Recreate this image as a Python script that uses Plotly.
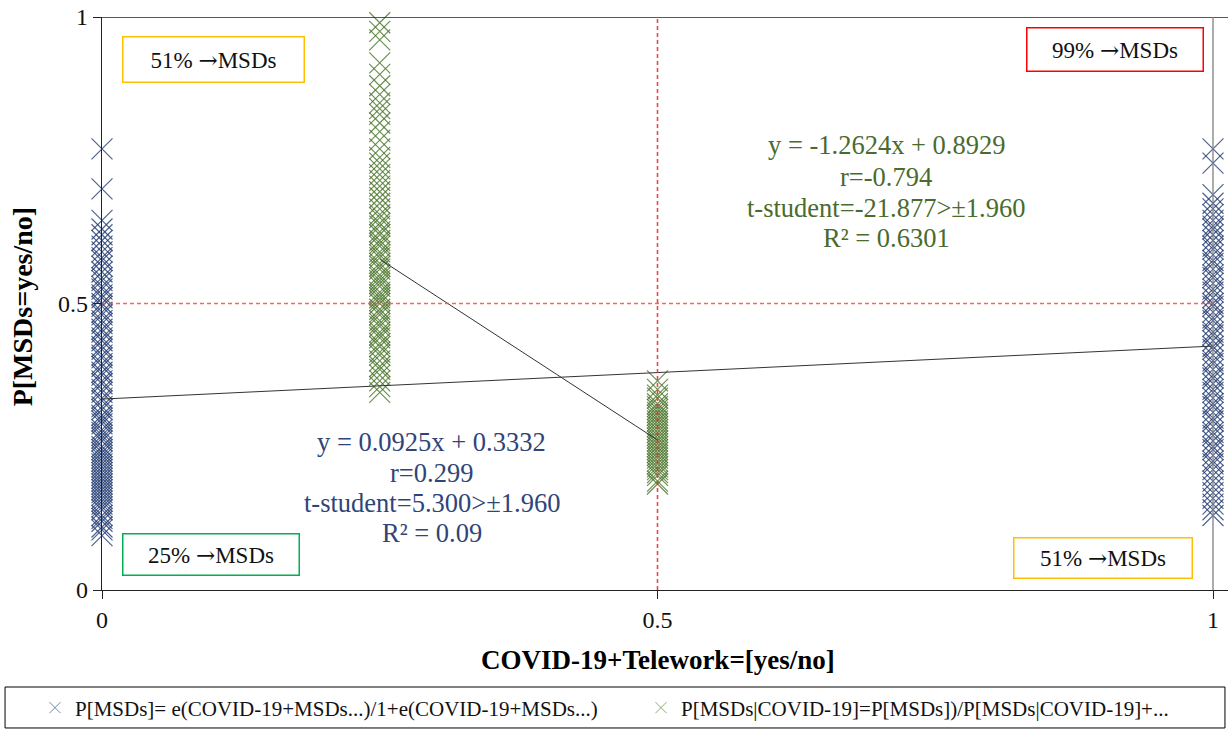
import plotly.graph_objects as go

# ---------------- data ----------------
blue_x0 = [0.77, 0.70, 0.645, 0.63, 0.62, 0.61, 0.60, 0.59, 0.58, 0.575, 0.565, 0.555,
           0.545, 0.54, 0.53, 0.525, 0.515, 0.51, 0.50, 0.495, 0.485, 0.48, 0.47, 0.465,
           0.455, 0.45, 0.44, 0.435, 0.425, 0.42, 0.41, 0.405, 0.395, 0.39, 0.38, 0.375,
           0.365, 0.36, 0.35, 0.345, 0.335, 0.33, 0.32, 0.315, 0.305, 0.30, 0.295, 0.29,
           0.28, 0.275, 0.27, 0.265, 0.26, 0.25, 0.245, 0.24, 0.235, 0.23, 0.225, 0.22,
           0.215, 0.21, 0.205, 0.20, 0.195, 0.19, 0.185, 0.18, 0.175, 0.17, 0.165, 0.16,
           0.155, 0.15, 0.145, 0.14, 0.13, 0.125, 0.12, 0.11, 0.105, 0.095]
blue_x1 = [0.77, 0.745, 0.69, 0.675, 0.665, 0.655, 0.645, 0.635, 0.63, 0.62, 0.61, 0.60,
           0.595, 0.585, 0.575, 0.57, 0.56, 0.55, 0.545, 0.535, 0.525, 0.52, 0.51, 0.50,
           0.495, 0.485, 0.475, 0.47, 0.46, 0.45, 0.445, 0.435, 0.425, 0.42, 0.41, 0.40,
           0.395, 0.385, 0.375, 0.37, 0.36, 0.35, 0.345, 0.335, 0.325, 0.32, 0.31, 0.30,
           0.295, 0.285, 0.275, 0.27, 0.26, 0.25, 0.245, 0.235, 0.225, 0.22, 0.21, 0.20,
           0.19, 0.18, 0.17, 0.16, 0.15, 0.14, 0.13]
green_x025 = [0.99, 0.975, 0.96, 0.92, 0.90, 0.88, 0.865, 0.85, 0.84, 0.83, 0.815, 0.80,
              0.785, 0.77, 0.755, 0.745, 0.735, 0.725, 0.715, 0.705, 0.695, 0.685, 0.675,
              0.665, 0.655, 0.65, 0.64, 0.635, 0.625, 0.62, 0.61, 0.605, 0.60, 0.59, 0.585,
              0.58, 0.57, 0.565, 0.56, 0.55, 0.545, 0.54, 0.535, 0.53, 0.52, 0.515, 0.51,
              0.505, 0.50, 0.49, 0.485, 0.48, 0.47, 0.465, 0.46, 0.45, 0.445, 0.44, 0.43,
              0.425, 0.415, 0.41, 0.40, 0.39, 0.385, 0.375, 0.365, 0.355, 0.345]
green_x05 = [0.365, 0.35, 0.34, 0.335, 0.325, 0.32, 0.315, 0.31, 0.305, 0.30, 0.295,
             0.29, 0.285, 0.28, 0.275, 0.27, 0.265, 0.26, 0.255, 0.25, 0.245, 0.24,
             0.235, 0.23, 0.225, 0.22, 0.215, 0.21, 0.205, 0.20, 0.19, 0.185]

blue_trend = {"slope": 0.0925, "intercept": 0.3332, "x": [0, 1]}
green_trend = {"slope": -1.2624, "intercept": 0.8929, "x": [0.25, 0.5]}

blue_name = "P[MSDs]= e(COVID-19+MSDs...)/1+e(COVID-19+MSDs...)"
green_name = "P[MSDs|COVID-19]=P[MSDs])/P[MSDs|COVID-19]+..."

blue_eq = ["y = 0.0925x + 0.3332", "r=0.299", "t-student=5.300>±1.960", "R² = 0.09"]
green_eq = ["y = -1.2624x + 0.8929", "r=-0.794", "t-student=-21.877>±1.960", "R² = 0.6301"]

box_labels = ["51%", "99%", "25%", "51%"]
tick_vals = [0, 0.5, 1]
tick_text = ["0", "0.5", "1"]

# ---------------- style ----------------
FONT = "Liberation Serif, Times New Roman, serif"
BLUE = "rgba(32,58,112,0.8)"
GREEN = "rgba(70,115,38,0.8)"
BLUE_TXT = "#2F4577"
GREEN_TXT = "#4A6B2E"
ARROW = '<span style="font-family:DejaVu Serif">→</span>'

box_style = [
    {"x": 0.1008, "y": 0.925, "w": 180, "h": 44, "color": "#FFC000"},
    {"x": 0.912, "y": 0.944, "w": 175, "h": 42, "color": "#FF0000"},
    {"x": 0.0977, "y": 0.0628, "w": 175, "h": 40, "color": "#00B050"},
    {"x": 0.9014, "y": 0.055, "w": 177, "h": 39, "color": "#FFC000"},
]

fig = go.Figure()

def scatter(xval, ys, color):
    fig.add_trace(go.Scatter(
        x=[xval] * len(ys), y=ys, mode="markers", showlegend=False, cliponaxis=False,
        marker=dict(symbol="x-thin-open", size=21, color=color,
                    line=dict(color=color, width=1.15)),
        hoverinfo="skip"))

scatter(0, blue_x0, BLUE)
scatter(1, blue_x1, BLUE)
scatter(0.25, green_x025, GREEN)
scatter(0.5, green_x05, GREEN)

for tr in (blue_trend, green_trend):
    fig.add_trace(go.Scatter(
        x=tr["x"], y=[tr["intercept"] + tr["slope"] * v for v in tr["x"]],
        mode="lines", line=dict(color="#333333", width=1), showlegend=False,
        hoverinfo="skip"))

# dashed reference lines drawn as traces
fig.add_trace(go.Scatter(x=[0, 1], y=[0.5, 0.5], mode="lines", showlegend=False,
                         hoverinfo="skip",
                         line=dict(color="rgba(255,70,70,0.85)", width=1.6, dash="4px,3px")))
fig.add_trace(go.Scatter(x=[0.5, 0.5], y=[0, 1], mode="lines", showlegend=False,
                         hoverinfo="skip",
                         line=dict(color="rgba(230,40,40,0.85)", width=1.6, dash="4px,3px")))

# legend-only traces, each in its own legend box
fig.add_trace(go.Scatter(x=[None], y=[None], mode="markers", name=blue_name, legend="legend",
                         marker=dict(symbol="x-thin-open", size=11, color="rgba(80,105,160,0.8)",
                                     line=dict(color="rgba(80,105,160,0.8)", width=1))))
fig.add_trace(go.Scatter(x=[None], y=[None], mode="markers", name=green_name, legend="legend2",
                         marker=dict(symbol="x-thin-open", size=11, color="rgba(110,150,80,0.8)",
                                     line=dict(color="rgba(110,150,80,0.8)", width=1))))

shapes = [
    dict(type="line", xref="paper", yref="y", x0=-0.008, x1=1, y0=1, y1=1,
         line=dict(color="#222222", width=1.3)),
    dict(type="line", xref="x", yref="y", x0=1, x1=1, y0=0, y1=1,
         line=dict(color="#808080", width=1.3)),
    dict(type="rect", xref="paper", yref="paper", x0=-0.0861, x1=0.9973,
         y0=-0.2408, y1=-0.1693, line=dict(color="#000000", width=1)),
]

annotations = []
for i, t in enumerate(green_eq):
    annotations.append(dict(x=0.7057, y=[0.7766, 0.7208, 0.6667, 0.6143][i], xref="x", yref="y",
                            text=t, showarrow=False, xanchor="center", yanchor="middle",
                            font=dict(family=FONT, size=26.5, color=GREEN_TXT)))
for i, t in enumerate(blue_eq):
    annotations.append(dict(x=0.297, y=[0.2583, 0.2042, 0.1518, 0.0995][i], xref="x", yref="y",
                            text=t, showarrow=False, xanchor="center", yanchor="middle",
                            font=dict(family=FONT, size=26.5, color=BLUE_TXT)))
for lab, b in zip(box_labels, box_style):
    annotations.append(dict(x=b["x"], y=b["y"], xref="x", yref="y",
                            text=lab + " " + ARROW + "MSDs",
                            showarrow=False, width=b["w"], height=b["h"], align="center",
                            valign="middle", bordercolor=b["color"], borderwidth=1.5,
                            borderpad=0, bgcolor="white",
                            font=dict(family=FONT, size=23, color="#111111")))

annotations.append(dict(x=0.5, y=-0.122, xref="x", yref="paper", yanchor="middle",
                        xanchor="center",
                        text="<b>COVID-19+Telework=[yes/no]</b>", showarrow=False,
                        font=dict(family=FONT, size=27, color="#000000")))
annotations.append(dict(x=(22 - 102) / 1126, y=0.495, xref="paper", yref="y", textangle=-90,
                        xanchor="center", yanchor="middle",
                        text="<b>P[MSDs=yes/no]</b>", showarrow=False,
                        font=dict(family=FONT, size=28, color="#000000")))

leg_common = dict(orientation="h", xref="container", yref="container", yanchor="middle",
                  xanchor="left", y=1 - 708 / 729, bgcolor="rgba(0,0,0,0)",
                  font=dict(family=FONT, size=21, color="#111111"))

fig.update_layout(
    width=1228, height=729,
    margin=dict(l=102, r=0, t=17, b=139),
    paper_bgcolor="white", plot_bgcolor="white",
    font=dict(family=FONT, size=24, color="#111111"),
    shapes=shapes, annotations=annotations,
    legend=dict(leg_common, x=35 / 1228),
    legend2=dict(leg_common, x=641 / 1228),
    xaxis=dict(range=[0, 1126 / 1111], tickvals=tick_vals, ticktext=tick_text,
               showgrid=False, zeroline=False, showline=True, linecolor="#222222",
               linewidth=1.3, ticks="outside", ticklen=8, tickcolor="#222222",
               tickfont=dict(family=FONT, size=24, color="#111111")),
    yaxis=dict(range=[0, 1], tickvals=tick_vals, ticktext=tick_text,
               showgrid=False, zeroline=False, showline=True, linecolor="#222222",
               linewidth=1.3, ticks="outside", ticklen=8, tickcolor="#222222",
               tickfont=dict(family=FONT, size=24, color="#111111")),
)

fig.write_html("out.html")
